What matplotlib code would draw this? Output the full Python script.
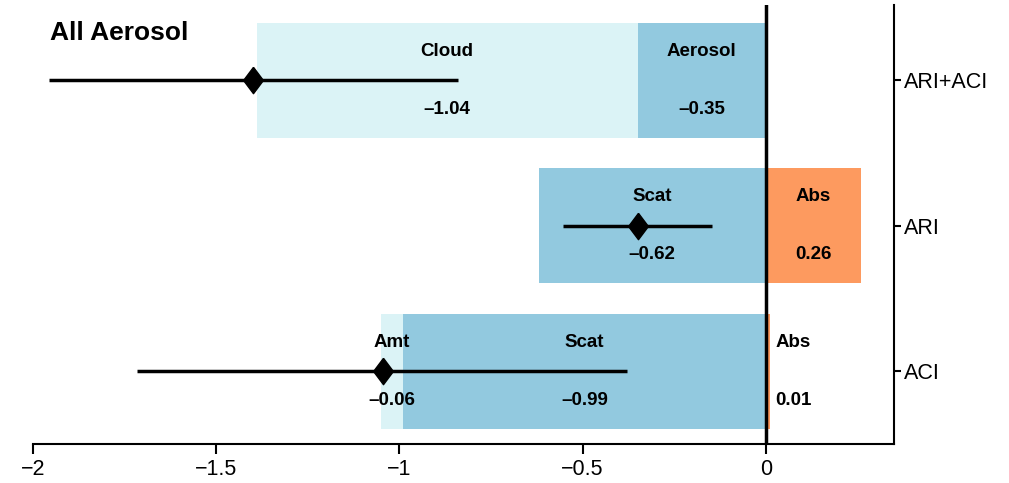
import numpy as np
import matplotlib.pyplot as plt

plt.rcParams["font.family"] = ["Liberation Sans", "DejaVu Sans"]

# rows from bottom to top
rows = ["ACI", "ARI", "ARI+ACI"]

# stacked segments per row: (name, value, colour key)
segments = {
    "ACI": [("Amt", -0.06, "light"), ("Scat", -0.99, "mid"), ("Abs", 0.01, "orange")],
    "ARI": [("Scat", -0.62, "mid"), ("Abs", 0.26, "orange")],
    "ARI+ACI": [("Cloud", -1.04, "light"), ("Aerosol", -0.35, "mid")],
}

# central estimate and range for each row
best = [-1.045, -0.35, -1.40]
lo = [-1.716, -0.554, -1.956]
hi = [-0.379, -0.147, -0.840]

colors = {"light": "#dbf3f6", "mid": "#92c9df", "orange": "#fd9a5f"}

fig = plt.figure(figsize=(10.09, 4.83), dpi=100)
ax = fig.add_axes([0.0327, 0.081, 0.8535, 0.909])

h = 0.79
for i, r in enumerate(rows):
    neg_left = 0.0
    pos_right = 0.0
    # stack outward from the zero line
    for name, v, c in reversed(segments[r]):
        if v < 0:
            left = neg_left + v
            ax.barh(i, -v, left=left, height=h, color=colors[c], edgecolor="none", zorder=1)
            cx = left - v / 2
            neg_left = left
        else:
            left = pos_right
            ax.barh(i, v, left=left, height=h, color=colors[c], edgecolor="none", zorder=1)
            cx = left + v / 2
            pos_right = left + v
        ha = "center"
        if 0 < v < 0.05:
            cx = pos_right + 0.015
            ha = "left"
        ax.text(cx, i + 0.2, name, ha=ha, va="center", fontsize=13.5, fontweight="bold", zorder=4)
        lab = f"{v:.2f}".replace("-", "\u2013")
        ax.text(cx, i - 0.2, lab, ha=ha, va="center", fontsize=13.5, fontweight="bold", zorder=4)

y = np.arange(len(rows))
ax.hlines(y, lo, hi, color="black", linewidth=2.5, zorder=3)
diamond = [(0, 1), (0.75, 0), (0, -1), (-0.75, 0), (0, 1)]
ax.plot(best, y, linestyle="none", marker=diamond, markersize=19, color="black", zorder=3)

ax.axvline(0, color="black", linewidth=2.5, zorder=2)

ax.set_xlim(-2, 0.35)
ax.set_ylim(-0.5, 2.52)
ax.set_xticks([-2, -1.5, -1, -0.5, 0])
ax.set_xticklabels(["\u22122", "\u22121.5", "\u22121", "\u22120.5", "0"])
ax.set_yticks(y)
ax.set_yticklabels(rows)
ax.yaxis.tick_right()
ax.spines["left"].set_visible(False)
ax.spines["top"].set_visible(False)
ax.spines["right"].set_linewidth(1.5)
ax.spines["bottom"].set_linewidth(1.5)
ax.tick_params(axis="both", labelsize=15.5, width=1.5, length=7, direction="out")
ax.tick_params(axis="x", pad=4)
ax.tick_params(axis="y", length=5, pad=2)

ax.text(0.02, 0.935, "All Aerosol", transform=ax.transAxes, fontsize=19, fontweight="bold",
        ha="left", va="center")

fig.savefig("out.png", dpi=100)
